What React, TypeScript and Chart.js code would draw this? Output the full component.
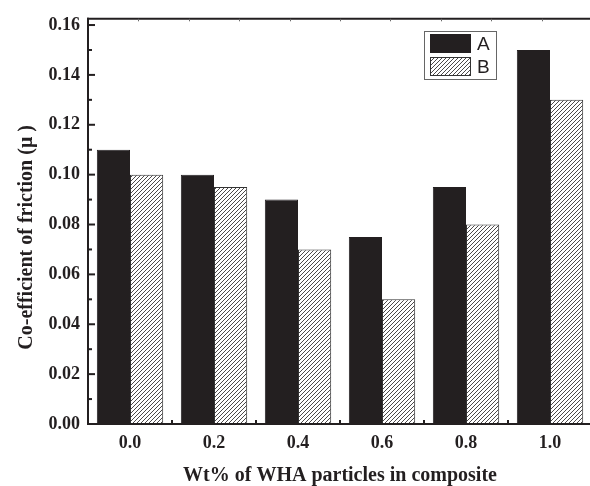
import React, { useEffect, useRef } from 'react';
import { Chart, registerables } from 'chart.js';
Chart.register(...registerables);

const categories = ['0.0', '0.2', '0.4', '0.6', '0.8', '1.0'];
const seriesA = [0.11, 0.1, 0.09, 0.075, 0.095, 0.15];
const seriesB = [0.1, 0.095, 0.07, 0.05, 0.08, 0.13];
const yTickValues = [0, 0.02, 0.04, 0.06, 0.08, 0.1, 0.12, 0.14, 0.16];
const seriesNames = ['A', 'B'];
const xTitle = 'Wt% of WHA particles in composite';
const yTitle = 'Co-efficient of friction (\u03bc )';

const INK = '#231f20';
const SERIF = '"Liberation Serif", "Times New Roman", serif';
const SANS = '"Liberation Sans", Arial, sans-serif';

function makeHatch(): CanvasPattern | string {
  const c = document.createElement('canvas');
  const s = 4;
  c.width = s;
  c.height = s;
  const g = c.getContext('2d');
  if (!g) return '#ccc';
  g.fillStyle = '#ffffff';
  g.fillRect(0, 0, s, s);
  g.strokeStyle = '#1e1b1c';
  g.lineWidth = 0.8;
  g.beginPath();
  g.moveTo(0, s);
  g.lineTo(s, 0);
  g.moveTo(-1, 1);
  g.lineTo(1, -1);
  g.moveTo(s - 1, s + 1);
  g.lineTo(s + 1, s - 1);
  g.stroke();
  return g.createPattern(c, 'repeat') || '#ccc';
}

function line(ctx: CanvasRenderingContext2D, x1: number, y1: number, x2: number, y2: number) {
  ctx.beginPath();
  ctx.moveTo(x1, y1);
  ctx.lineTo(x2, y2);
  ctx.stroke();
}

const framePlugin = {
  id: 'frame',
  afterDraw(chart: any) {
    const ctx: CanvasRenderingContext2D = chart.ctx;
    const { left, right, top, bottom } = chart.chartArea;
    const x = chart.scales.x;
    const y = chart.scales.y;
    ctx.save();
    ctx.strokeStyle = INK;
    ctx.lineWidth = 2;
    ctx.lineCap = 'butt';
    // frame
    line(ctx, left, top - 1, left, bottom + 1);
    line(ctx, left - 1, bottom, right + 1, bottom);
    line(ctx, left - 1, top, right + 1, top);
    line(ctx, right, top - 1, right, bottom + 1);
    // y ticks (inward)
    for (let i = 0; i < yTickValues.length; i++) {
      const v = yTickValues[i];
      const py = y.getPixelForValue(v);
      line(ctx, left, py, left + 7, py);
      if (i < yTickValues.length - 1) {
        const pm = y.getPixelForValue((v + yTickValues[i + 1]) / 2);
        line(ctx, left, pm, left + 4, pm);
      }
    }
    // x minor ticks at category boundaries
    for (let i = 0; i < categories.length - 1; i++) {
      const px = (x.getPixelForValue(i) + x.getPixelForValue(i + 1)) / 2;
      line(ctx, px, bottom, px, bottom - 4);
    }
    // faint top ticks
    ctx.lineWidth = 1;
    ctx.strokeStyle = '#6a6a6a';
    for (let i = 1; i < 10; i++) {
      const px = Math.round(left + ((right - left) * i) / 10) + 0.5;
      line(ctx, px, top, px, top + 2.5);
    }

    // legend
    const ds = chart.data.datasets;
    ctx.strokeStyle = '#666';
    ctx.lineWidth = 1;
    ctx.strokeRect(424.5, 31.5, 72, 48);
    const sw = [
      { y: 34, h: 19 },
      { y: 57, h: 19 },
    ];
    ctx.font = '19px ' + SANS;
    ctx.textBaseline = 'middle';
    ctx.textAlign = 'left';
    for (let i = 0; i < ds.length; i++) {
      ctx.fillStyle = ds[i].backgroundColor;
      ctx.fillRect(430, sw[i].y, 41, sw[i].h);
      ctx.strokeStyle = ds[i].borderColor;
      ctx.lineWidth = 1;
      ctx.strokeRect(430.5, sw[i].y + 0.5, 40, sw[i].h - 1);
      ctx.fillStyle = INK;
      ctx.fillText(seriesNames[i], 477, sw[i].y + sw[i].h / 2 + 1);
    }

    // axis titles
    ctx.fillStyle = INK;
    ctx.font = 'bold 20px ' + SERIF;
    ctx.textAlign = 'center';
    ctx.textBaseline = 'alphabetic';
    ctx.fillText(xTitle, (left + right) / 2, 481);
    ctx.save();
    ctx.translate(27, (top + bottom) / 2 + 16);
    ctx.rotate(-Math.PI / 2);
    ctx.textBaseline = 'middle';
    ctx.fillText(yTitle, 0, 0);
    ctx.restore();
    ctx.restore();
  },
};

export default function App() {
  const ref = useRef<HTMLCanvasElement | null>(null);
  useEffect(() => {
    if (!ref.current) return;
    const hatch = makeHatch();
    const chart = new Chart(ref.current, {
      type: 'bar',
      data: {
        labels: categories,
        datasets: [
          {
            label: seriesNames[0],
            data: seriesA,
            backgroundColor: INK,
            borderColor: INK,
            borderWidth: 1,
            barPercentage: 1,
            categoryPercentage: 0.79,
          },
          {
            label: seriesNames[1],
            data: seriesB,
            backgroundColor: hatch as any,
            borderColor: '#333',
            borderWidth: 1,
            barPercentage: 1,
            categoryPercentage: 0.79,
          },
        ],
      },
      options: {
        animation: false,
        responsive: false,
        devicePixelRatio: 1,
        layout: { padding: { left: 0, top: 12, right: 8, bottom: 0 } },
        plugins: { legend: { display: false }, tooltip: { enabled: false } },
        scales: {
          x: {
            type: 'category',
            grid: { display: false, drawTicks: false },
            border: { display: false },
            ticks: { font: { family: SERIF, size: 18, weight: 'bold' }, color: INK, padding: 9 },
            afterFit: (s: any) => {
              s.height = 62;
            },
          },
          y: {
            min: 0,
            max: 0.1625,
            grid: { display: false, drawTicks: false },
            border: { display: false },
            afterBuildTicks: (s: any) => {
              s.ticks = yTickValues.map((v) => ({ value: v }));
            },
            ticks: {
              font: { family: SERIF, size: 18, weight: 'bold' },
              color: INK,
              padding: 8,
              callback: (v: any) => Number(v).toFixed(2),
            },
            afterFit: (s: any) => {
              s.width = 88;
            },
          },
        },
      },
      plugins: [framePlugin],
    } as any);
    return () => chart.destroy();
  }, []);
  return (
    <div style={{ position: 'fixed', left: 0, top: 0, width: 590, height: 486, overflow: 'hidden', background: '#fff' }}>
      <canvas ref={ref} width={600} height={486} style={{ display: 'block' }} />
    </div>
  );
}
